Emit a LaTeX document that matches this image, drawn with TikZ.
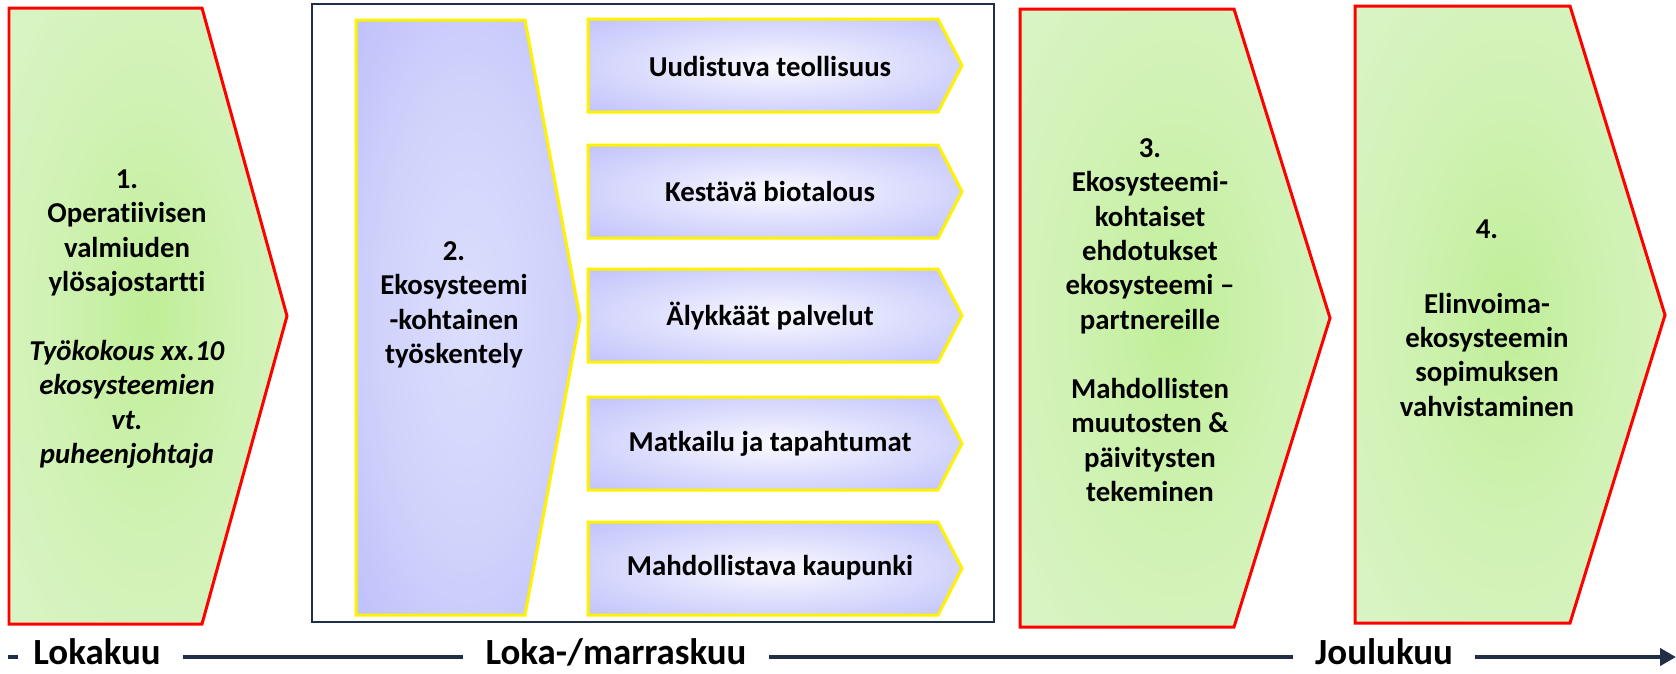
\documentclass[tikz,border=0pt]{standalone}
\usepackage{fontspec}
\setmainfont{Carlito}[Ligatures={TeX,NoCommon}]
\usepackage{xcolor}
\usepackage{tikz}
\usetikzlibrary{arrows.meta}

\definecolor{navy}{RGB}{32,46,70}
\definecolor{mgreen}{RGB}{192,238,152}
\definecolor{hgreen}{RGB}{208,242,180}
\definecolor{lgreen}{RGB}{226,246,212}
\definecolor{pgreen}{RGB}{238,250,230}
\definecolor{lblue}{RGB}{180,182,250}
\definecolor{hblue}{RGB}{226,227,253}
\definecolor{wblue}{RGB}{250,250,255}
\definecolor{pblue}{RGB}{220,222,252}

\pgfdeclareradialshading{phasefill}{\pgfpoint{0bp}{0bp}}{color(0bp)=(mgreen); color(18bp)=(hgreen); color(50bp)=(lgreen); color(72bp)=(pgreen)}
\pgfdeclareradialshading{streamfill}{\pgfpoint{0bp}{0bp}}{color(0bp)=(wblue); color(14bp)=(hblue); color(44bp)=(lblue); color(72bp)=(lblue)}
\pgfdeclareradialshading{tallfill}{\pgfpoint{0bp}{0bp}}{color(0bp)=(pblue); color(20bp)=(pblue!70!lblue); color(45bp)=(lblue); color(72bp)=(lblue)}

\tikzset{
    phase/.style={draw=red,line width=0.06cm,shading=phasefill},
    tallbox/.style={draw=yellow,line width=0.06cm,shading=tallfill},
    stream/.style={draw=yellow,line width=0.06cm,shading=streamfill},
    frame/.style={draw=navy,line width=0.05cm},
    txt/.style={font=\fontsize{16.4}{19.6}\selectfont\bfseries,align=center,inner sep=0pt},
    month/.style={font=\fontsize{21}{25}\selectfont\bfseries,anchor=base,inner xsep=0.44cm,inner ysep=0pt},
    axisline/.style={draw=navy,line width=0.09cm}
}

\begin{document}
\begin{tikzpicture}[x=0.02cm,y=-0.02cm]
    \useasboundingbox (0,0) rectangle (1676,673);
    % phase 1
    \shadedraw[phase] (9,8) -- (202,8) -- (287,316) -- (202,624) -- (9,624) -- cycle;
    % phase 2 with the ecosystems
    \draw[frame] (312,4) rectangle (994,622);
    \shadedraw[tallbox] (356,20) -- (525,20) -- (580,318) -- (525,615) -- (356,615) -- cycle;
    \foreach \t in {19,145,269,397,522} {
        \shadedraw[stream] (588,\t) -- (938,\t) -- (962,\t+46.5) -- (938,\t+93) -- (588,\t+93) -- cycle;
    }
    % phases 3 and 4
    \shadedraw[phase] (1020,9) -- (1234,9) -- (1330,318) -- (1234,627) -- (1020,627) -- cycle;
    \shadedraw[phase] (1355,6) -- (1570,6) -- (1665,315) -- (1570,623) -- (1355,623) -- cycle;

    \node[txt] (p1) at (127,319) {1.\\Operatiivisen\\valmiuden\\ylösajostartti\\[19.6pt]\textit{Työkokous xx.10}\\\textit{ekosysteemien}\\\textit{vt.}\\\textit{puheenjohtaja}};
    \node[txt] (p2) at (454,305) {2.\\Ekosysteemi\\-kohtainen\\työskentely};
    \node[txt] (s1) at (770,66) {Uudistuva teollisuus};
    \node[txt] (s2) at (770,191) {Kestävä biotalous};
    \node[txt] (s3) at (770,316) {Älykkäät palvelut};
    \node[txt] (s4) at (770,444) {Matkailu ja tapahtumat};
    \node[txt] (s5) at (770,568) {Mahdollistava kaupunki};
    \node[txt] (p3) at (1150,320) {3.\\Ekosysteemi-\\kohtaiset\\ehdotukset\\ekosysteemi –\\partnereille\\[19.6pt]Mahdollisten\\muutosten \&\\päivitysten\\tekeminen};
    \node[txt] (p4) at (1487,318) {4.\\[23pt]Elinvoima-\\ekosysteemin\\sopimuksen\\vahvistaminen};

    % time axis
    \coordinate (ax) at (0,657);
    \coordinate (a0) at (8,657);
    \coordinate (a1) at (18,657);
    \coordinate (axend) at (1676,657);
    \node[month] (m1) at (97,664) {Lokakuu};
    \node[month] (m2) at (616,664) {Loka-/marraskuu};
    \node[month] (m3) at (1384,664) {Joulukuu};
    \draw[axisline] (a0) -- (a1);
    \draw[axisline] (m1.east |- ax) -- (m2.west |- ax);
    \draw[axisline] (m2.east |- ax) -- (m3.west |- ax);
    \draw[axisline,-{Triangle[length=0.32cm,width=0.34cm]}] (m3.east |- ax) -- (axend);
\end{tikzpicture}
\end{document}
